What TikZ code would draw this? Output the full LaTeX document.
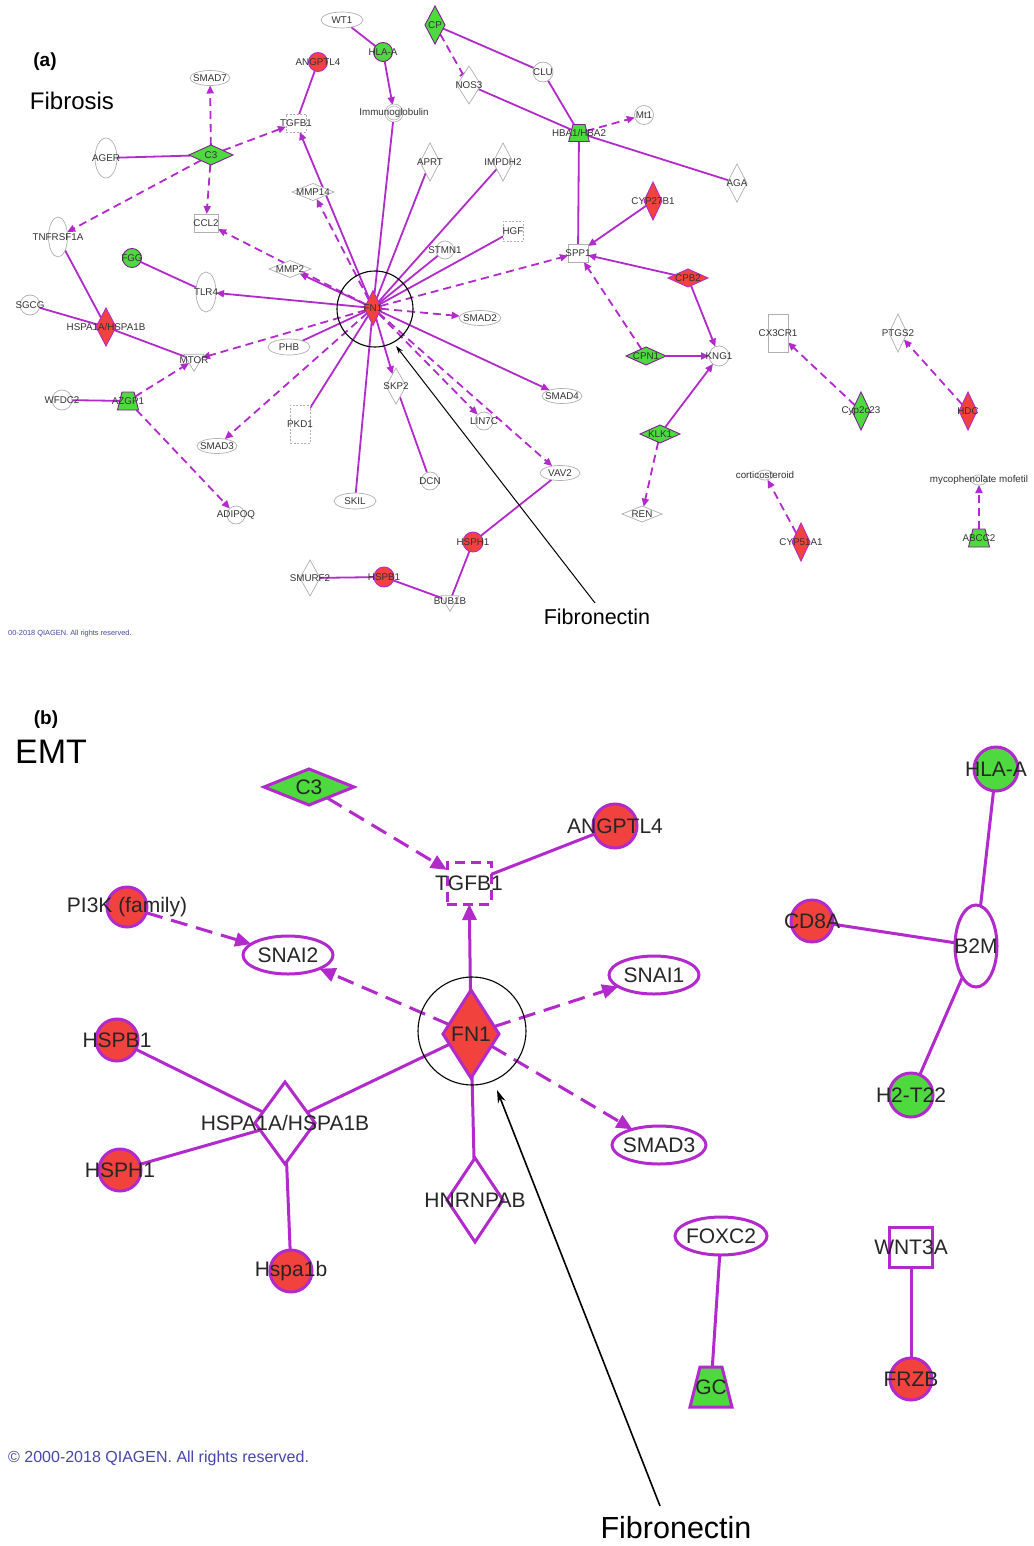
\documentclass[tikz,border=0pt]{standalone}
\usepackage{fontspec}
\setmainfont{Liberation Sans}
\usetikzlibrary{shapes.geometric,arrows.meta,backgrounds}
\definecolor{mag}{RGB}{178,42,204}
\definecolor{nred}{RGB}{242,66,62}
\definecolor{ngreen}{RGB}{78,218,62}
\definecolor{gbord}{RGB}{175,175,175}
\definecolor{qblue}{RGB}{70,70,175}
\definecolor{txt}{RGB}{50,50,50}
\tikzset{
 la/.style={font=\fontsize{9.8}{10}\selectfont, text=txt, inner sep=0pt},
 an/.style={inner sep=0pt, outer sep=0pt, draw=gbord, fill=white, line width=0.7pt},
 ael/.style n args={3}{an, ellipse, minimum width=#1, minimum height=#2, label={[la]center:#3}},
 adi/.style n args={3}{an, diamond, minimum width=#1, minimum height=#2, label={[la]center:#3}},
 are/.style n args={3}{an, rectangle, minimum width=#1, minimum height=#2, label={[la]center:#3}},
 aci/.style 2 args={an, circle, minimum size=#1, label={[la]center:#2}},
 atr/.style 2 args={an, regular polygon, regular polygon sides=3, shape border rotate=180, minimum size=#1, label={[la]center:#2}},
 atz/.style n args={3}{an, trapezium, trapezium angle=76, inner xsep=#1, inner ysep=#2, label={[la]center:#3}},
 ared/.style={fill=nred, draw=mag, line width=0.9pt},
 agrn/.style={fill=ngreen, draw=mag!70!black, line width=0.9pt},
 adash/.style={dash pattern=on 2pt off 1.5pt},
 ea/.style={draw=mag, line width=1.8pt},
 eaa/.style={ea, -{Triangle[length=8pt,width=7pt]}},
 ed/.style={ea, dash pattern=on 8pt off 5pt},
 eda/.style={ed, -{Triangle[length=8pt,width=7pt]}},
 lb/.style={font=\fontsize{21}{24}\selectfont, text=black!85, inner sep=0pt},
 bn/.style={inner sep=0pt, outer sep=0pt, draw=mag, fill=white, line width=3pt},
 bel/.style n args={3}{bn, ellipse, minimum width=#1, minimum height=#2, label={[lb]center:#3}},
 bdi/.style n args={3}{bn, diamond, minimum width=#1, minimum height=#2, label={[lb]center:#3}},
 bre/.style n args={3}{bn, rectangle, minimum width=#1, minimum height=#2, label={[lb]center:#3}},
 bci/.style 2 args={bn, circle, minimum size=#1, label={[lb]center:#2}},
 btz/.style n args={3}{bn, trapezium, trapezium angle=76, inner xsep=#1, inner ysep=#2, label={[lb]center:#3}},
 eb/.style={draw=mag, line width=3pt},
 eba/.style={eb, -{Triangle[length=16pt,width=14pt]}},
 ebd/.style={eb, dash pattern=on 17pt off 9pt},
 ebda/.style={ebd, -{Triangle[length=16pt,width=14pt]}},
 ring/.style={circle, draw=black, line width=1.1pt, inner sep=0pt, minimum size=#1},
 annA/.style={draw=black, line width=1pt, -{Stealth[length=8pt,width=5pt]}},
 annB/.style={draw=black, line width=1.6pt, -{Stealth[length=13pt,width=8pt]}},
 title/.style={font=\bfseries\fontsize{19}{21}\selectfont, text=black},
}
\begin{document}
\begin{tikzpicture}[x=1pt,y=-1pt]
\begin{scope}[on background layer]
\fill[white] (0,0) rectangle (1033,1546);
\end{scope}
\useasboundingbox (0,0) rectangle (1033,1546);

% ---------------- Panel (a) ----------------
\node[title] (lblA) at (45,62) {(a)};
\node[font=\fontsize{24}{26}\selectfont] (fibrosis) at (72,101) {Fibrosis};

\node[ael={40pt}{15pt}{SMAD7}] (smad7) at (210,78) {};
\node[adi={44pt}{20pt}{C3}, agrn] (c3a) at (211,155) {};
\node[ael={22pt}{40pt}{AGER}] (ager) at (106,158) {};
\node[ael={19pt}{40pt}{TNFRSF1A}] (tnf) at (58,237) {};
\node[are={24pt}{18pt}{CCL2}] (ccl2) at (206,223) {};
\node[are={20pt}{18pt}{TGFB1}, adash] (tgfa) at (296,123) {};
\node[aci={19pt}{ANGPTL4}, ared] (angA) at (318,62) {};
\node[ael={42pt}{16pt}{WT1}] (wt1) at (342,20) {};
\node[aci={19pt}{HLA-A}, agrn] (hlaA) at (383,52) {};
\node[aci={16pt}{Immunoglobulin}, double, double distance=1.2pt] (igg) at (394,113) {};
\node[adi={20pt}{38pt}{CP}, agrn] (cp) at (435,25) {};
\node[adi={24pt}{38pt}{NOS3}] (nos3) at (469,85) {};
\node[aci={20pt}{CLU}] (clu) at (543,72) {};
\node[atz={6pt}{8.5pt}{HBA1/HBA2}, agrn] (hba) at (579,133) {};
\node[aci={19pt}{Mt1}] (mt1) at (644,115) {};
\node[adi={20pt}{38pt}{AGA}] (aga) at (737,183) {};
\node[adi={20pt}{38pt}{APRT}] (aprt) at (430,162) {};
\node[adi={20pt}{38pt}{IMPDH2}] (impdh) at (503,162) {};
\node[adi={42pt}{17pt}{MMP14}] (mmp14) at (313,192) {};
\node[are={20pt}{20pt}{HGF}, adash] (hgf) at (513,231) {};
\node[aci={18pt}{STMN1}] (stmn) at (445,250) {};
\node[adi={18pt}{38pt}{CYP27B1}, ared] (cyp27) at (653,201) {};
\node[are={20pt}{18pt}{SPP1}] (spp1) at (578,253) {};
\node[adi={40pt}{18pt}{CPB2}, ared] (cpb2) at (688,278) {};
\node[aci={19pt}{FGG}, agrn] (fgg) at (132,258) {};
\node[ael={20pt}{40pt}{TLR4}] (tlr4) at (206,292) {};
\node[adi={42pt}{17pt}{MMP2}] (mmp2) at (290,269) {};
\node[adi={17pt}{35pt}{FN1}, ared] (fn1a) at (373,308) {};
\node[ael={42pt}{15pt}{SMAD2}] (smad2) at (480,318) {};
\node[aci={20pt}{SGCG}] (sgcg) at (30,305) {};
\node[adi={20pt}{38pt}{HSPA1A/HSPA1B}, ared] (hspaA) at (106,327) {};
\node[atr={23pt}{MTOR}] (mtor) at (194,360) {};
\node[ael={42pt}{16pt}{PHB}] (phb) at (289,347) {};
\node[are={20pt}{38pt}{CX3CR1}] (cx3) at (778,333) {};
\node[adi={18pt}{38pt}{PTGS2}] (ptgs2) at (898,333) {};
\node[adi={40pt}{18pt}{CPN1}, agrn] (cpn1) at (646,356) {};
\node[aci={20pt}{KNG1}] (kng1) at (719,356) {};
\node[aci={20pt}{WFDC2}] (wfdc) at (62,400) {};
\node[atz={6pt}{9pt}{AZGP1}, agrn] (azgp) at (128,401) {};
\node[adi={20pt}{36pt}{SKP2}] (skp2) at (396,386) {};
\node[are={20pt}{38pt}{PKD1}, adash] (pkd1) at (300,424) {};
\node[ael={40pt}{15pt}{SMAD4}] (smad4) at (562,396) {};
\node[aci={18pt}{LIN7C}] (lin7c) at (484,421) {};
\node[adi={18pt}{38pt}{Cyp2c23}, agrn] (cyp2c) at (861,411) {};
\node[adi={18pt}{38pt}{HDC}, ared] (hdc) at (968,411) {};
\node[ael={40pt}{15pt}{SMAD3}] (smad3a) at (217,446) {};
\node[adi={40pt}{18pt}{KLK1}, agrn] (klk1) at (660,434) {};
\node[aci={18pt}{DCN}] (dcn) at (430,481) {};
\node[ael={40pt}{15pt}{VAV2}] (vav2) at (560,473) {};
\node[ael={42pt}{16pt}{SKIL}] (skil) at (355,501) {};
\node[ael={16pt}{10pt}{corticosteroid}] (cort) at (765,475) {};
\node[ael={16pt}{10pt}{mycophenolate mofetil}] (myco) at (979,480) {};
\node[aci={18pt}{ADIPOQ}] (adipoq) at (236,515) {};
\node[adi={40pt}{16pt}{REN}] (ren) at (642,514) {};
\node[adi={18pt}{38pt}{CYP51A1}, ared] (cyp51) at (801,542) {};
\node[atz={6pt}{9pt}{ABCC2}, agrn] (abcc2) at (979,538) {};
\node[aci={20pt}{HSPH1}, ared] (hsph1a) at (473,542) {};
\node[adi={20pt}{36pt}{SMURF2}] (smurf) at (310,578) {};
\node[aci={20pt}{HSPB1}, ared] (hspb1a) at (384,577) {};
\node[atr={21pt}{BUB1B}] (bub1b) at (450,601) {};

\node[ring=76pt] (ringA) at (375,309) {};
\node[font=\fontsize{21.5}{24}\selectfont] (fnlabA) at (597,617) {Fibronectin};
\coordinate (fa1) at (595,603);
\coordinate (fa2) at (396,346);
\draw[annA] (fa1) -- (fa2);
\node[anchor=west, font=\fontsize{7.4}{8}\selectfont, text=qblue, inner sep=0pt] (cpyA) at (8,634) {00-2018 QIAGEN. All rights reserved.};

\begin{scope}[on background layer]
\draw[eda] (c3a) -- (smad7);
\draw[ea] (ager) -- (c3a);
\draw[eda] (c3a) -- (tnf);
\draw[eda] (c3a) -- (ccl2);
\draw[eda] (c3a) -- (tgfa);
\draw[ea] (angA) -- (tgfa);
\draw[eaa] (fn1a) -- (tgfa);
\draw[ea] (wt1) -- (hlaA);
\draw[eaa] (hlaA) -- (igg);
\draw[ea] (igg) -- (fn1a);
\draw[ed, -{Bar[width=7pt]}] (cp) -- (nos3);
\draw[ea] (cp) -- (clu);
\draw[ea] (clu) -- (hba);
\draw[ea] (nos3) -- (hba);
\draw[eda] (hba) -- (mt1);
\draw[ea] (hba) -- (aga);
\draw[ea] (hba) -- (spp1);
\draw[eaa] (cyp27) -- (spp1);
\draw[eaa] (cpb2) -- (spp1);
\draw[eda] (cpn1) -- (spp1);
\draw[eaa] (cpb2) -- (kng1);
\draw[eaa] (cpn1) -- (kng1);
\draw[eaa] (klk1) -- (kng1);
\draw[eda] (klk1) -- (ren);
\draw[eda] (cyp2c) -- (cx3);
\draw[eda] (hdc) -- (ptgs2);
\draw[eda] (cyp51) -- (cort);
\draw[eda] (abcc2) -- (myco);
\draw[ea] (fn1a) -- (aprt);
\draw[ea] (fn1a) -- (impdh);
\draw[ea] (fn1a) -- (hgf);
\draw[ea] (fn1a) -- (stmn);
\draw[eda] (fn1a) -- (spp1);
\draw[eda] (fn1a) -- (smad2);
\draw[eaa] (fn1a) -- (smad4);
\draw[eda] (fn1a) -- (lin7c);
\draw[eda] (fn1a) -- (vav2);
\draw[eaa] (fn1a) -- (skp2);
\draw[ea] (skp2) -- (dcn);
\draw[ea] (fn1a) -- (skil);
\draw[ea] (fn1a) -- (pkd1);
\draw[eda] (fn1a) -- (smad3a);
\draw[eda] (fn1a) -- (mtor);
\draw[ea] (fn1a) -- (phb);
\draw[eaa] (fn1a) -- (tlr4);
\draw[eaa] (fn1a) -- (mmp2);
\draw[eda] (fn1a) -- (ccl2);
\draw[eda] (fn1a) -- (mmp14);
\draw[ea] (fgg) -- (tlr4);
\draw[ea] (tnf) -- (hspaA);
\draw[ea] (sgcg) -- (hspaA);
\draw[ea] (hspaA) -- (mtor);
\draw[ea] (wfdc) -- (azgp);
\draw[eda] (azgp) -- (mtor);
\draw[eda] (azgp) -- (adipoq);
\draw[ea] (vav2) -- (hsph1a);
\draw[ea] (hsph1a) -- (bub1b);
\draw[ea] (hspb1a) -- (bub1b);
\draw[ea] (smurf) -- (hspb1a);
\end{scope}

% ---------------- Panel (b) ----------------
\node[title] (lblB) at (46,720) {(b)};
\node[font=\fontsize{34}{36}\selectfont] (emt) at (51,752) {EMT};

\node[bdi={90pt}{36pt}{C3}, fill=ngreen] (c3b) at (309,787) {};
\node[bci={44pt}{ANGPTL4}, fill=nred] (angB) at (615,826) {};
\node[bre={44pt}{42pt}{TGFB1}, dash pattern=on 10pt off 6pt] (tgfb) at (469,883) {};
\node[bci={40pt}{PI3K (family)}, fill=nred] (pi3k) at (127,907) {};
\node[bel={90pt}{38pt}{SNAI2}] (snai2) at (288,955) {};
\node[bci={42pt}{CD8A}, fill=nred] (cd8a) at (812,921) {};
\node[bci={44pt}{HLA-A}, fill=ngreen] (hlaB) at (996,769) {};
\node[bel={42pt}{82pt}{B2M}] (b2m) at (976,946) {};
\node[bel={90pt}{38pt}{SNAI1}] (snai1) at (654,975) {};
\node[bdi={56pt}{88pt}{FN1}, fill=nred] (fn1b) at (471,1034) {};
\node[bci={42pt}{HSPB1}, fill=nred] (hspb1b) at (117,1040) {};
\node[bdi={60pt}{82pt}{HSPA1A/HSPA1B}] (hspaB) at (285,1123) {};
\node[bel={94pt}{38pt}{SMAD3}] (smad3b) at (659,1145) {};
\node[bci={44pt}{H2-T22}, fill=ngreen] (h2t) at (911,1095) {};
\node[bci={42pt}{HSPH1}, fill=nred] (hsph1b) at (120,1170) {};
\node[bdi={56pt}{84pt}{HNRNPAB}] (hnrn) at (475,1200) {};
\node[bci={42pt}{Hspa1b}, fill=nred] (hspa1b) at (291,1271) {};
\node[bel={92pt}{38pt}{FOXC2}] (foxc2) at (721,1236) {};
\node[bre={43pt}{40pt}{WNT3A}] (wnt3a) at (911,1247) {};
\node[btz={11pt}{20pt}{GC}, fill=ngreen] (gc) at (711,1387) {};
\node[bci={42pt}{FRZB}, fill=nred] (frzb) at (911,1379) {};

\node[ring=108pt] (ringB) at (472,1031) {};
\node[font=\fontsize{30.5}{33}\selectfont] (fnlabB) at (676,1528) {Fibronectin};
\coordinate (fb1) at (660,1506);
\coordinate (fb2) at (497,1090);
\draw[annB] (fb1) -- (fb2);
\node[anchor=west, font=\fontsize{16}{18}\selectfont, text=qblue, inner sep=0pt] (cpyB) at (8,1458) {© 2000-2018 QIAGEN. All rights reserved.};

\begin{scope}[on background layer]
\draw[ebda] (c3b) -- (tgfb);
\draw[eb] (angB) -- (tgfb);
\draw[eba] (fn1b) -- (tgfb);
\draw[ebda] (pi3k) -- (snai2);
\draw[ebda] (fn1b) -- (snai2);
\draw[ebda] (fn1b) -- (snai1);
\draw[ebda] (fn1b) -- (smad3b);
\draw[eb] (fn1b) -- (hspaB);
\draw[eb] (hspb1b) -- (hspaB);
\draw[eb] (hsph1b) -- (hspaB);
\draw[eb] (hspa1b) -- (hspaB);
\draw[eb] (fn1b) -- (hnrn);
\draw[eb] (cd8a) -- (b2m);
\draw[eb] (hlaB) -- (b2m);
\draw[eb] (h2t) -- (b2m);
\draw[eb] (foxc2) -- (gc);
\draw[eb] (wnt3a) -- (frzb);
\end{scope}
\end{tikzpicture}
\end{document}
